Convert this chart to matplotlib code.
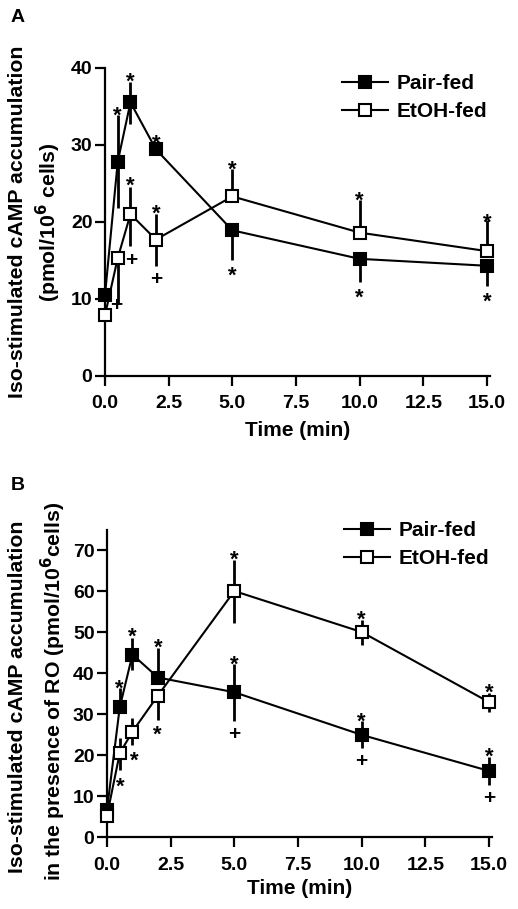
import matplotlib
matplotlib.use('Agg')
import matplotlib.pyplot as plt
from matplotlib.ticker import FormatStrFormatter

plt.rcParams['font.family'] = ['Liberation Sans', 'DejaVu Sans']
plt.rcParams['font.weight'] = 'bold'

time = [0, 0.5, 1, 2, 5, 10, 15]
xticks = [0, 2.5, 5, 7.5, 10, 12.5, 15]

# panel A
a_pair = [10.5, 27.8, 35.5, 29.4, 18.9, 15.2, 14.3]
a_pair_up = [0, 6.0, 2.6, 1.0, 0, 0, 0]
a_pair_dn = [0, 6.0, 2.8, 0, 3.9, 3.0, 2.6]
a_etoh = [7.9, 15.3, 21.0, 17.7, 23.3, 18.6, 16.2]
a_etoh_up = [0, 0, 3.5, 3.3, 3.6, 4.2, 4.0]
a_etoh_dn = [0, 5.9, 4.1, 3.4, 0, 0, 0]
a_marks = [(0.5, 34.6, '*'), (1, 39.0, '*'), (2, 31.0, '*'), (5, 13.9, '*'),
           (10, 11.0, '*'), (15, 10.5, '*'),
           (0.46, 9.4, '+'), (1.05, 15.3, '+'), (1, 25.6, '*'), (2, 21.9, '*'),
           (2, 12.8, '+'), (5, 27.6, '*'), (10, 23.6, '*'), (15, 20.8, '*')]

# panel B
b_pair = [6.7, 31.7, 44.6, 39.0, 35.4, 25.0, 16.2]
b_pair_up = [0, 4.7, 4.1, 7.2, 6.9, 3.3, 3.5]
b_pair_dn = [0, 0, 3.7, 0, 7.1, 3.2, 3.4]
b_etoh = [5.3, 20.5, 25.8, 34.6, 60.1, 50.1, 33.0]
b_etoh_up = [0, 3.7, 3.3, 0, 7.7, 3.0, 2.2]
b_etoh_dn = [0, 4.0, 3.2, 5.9, 7.8, 3.1, 2.3]
b_marks = [(0.5, 38.0, '*'), (1, 50.7, '*'), (2, 47.8, '*'), (5, 43.8, '*'),
           (10, 29.9, '*'), (15, 21.4, '*'),
           (5, 25.6, '+'), (10, 18.9, '+'), (15, 9.9, '+'),
           (0.54, 14.0, '*'), (1.06, 20.4, '*'), (1.99, 26.7, '*'),
           (5, 69.4, '*'), (10, 54.8, '*'), (15, 36.8, '*')]


def panel(ax, pair, pup, pdn, etoh, eup, edn, marks, ymax, yticks, leg_anchor):
    ax.errorbar(time, pair, yerr=[pdn, pup], fmt='none', ecolor='black',
                elinewidth=2.0, capsize=0, clip_on=False)
    ax.errorbar(time, etoh, yerr=[edn, eup], fmt='none', ecolor='black',
                elinewidth=2.0, capsize=0, clip_on=False)
    ax.plot(time, pair, '-s', color='black', lw=1.5, ms=9,
            mfc='black', mec='black', mew=1.5, label='Pair-fed', clip_on=False, zorder=3)
    ax.plot(time, etoh, '-s', color='black', lw=1.5, ms=9,
            mfc='white', mec='black', mew=1.5, label='EtOH-fed', clip_on=False, zorder=3)
    for x, y, s in marks:
        fs = 16 if s == '*' else 15
        off = -0.57 * fs if s == '*' else -0.36 * fs
        ax.annotate(s, (x, y), xytext=(0, off), textcoords='offset points',
                    ha='center', va='baseline', fontsize=fs, fontweight='bold')
    ax.set_xlim(0, 15.1)
    ax.set_ylim(0, ymax)
    ax.set_xticks(xticks)
    ax.set_yticks(yticks)
    ax.xaxis.set_major_formatter(FormatStrFormatter('%.1f'))
    for s in ['top', 'right']:
        ax.spines[s].set_visible(False)
    for s in ['left', 'bottom']:
        ax.spines[s].set_linewidth(1.6)
    ax.tick_params(length=7, width=1.6, labelsize=14)
    ax.tick_params(axis='x', pad=7)
    ax.tick_params(axis='y', pad=2)
    for lab in ax.get_xticklabels() + ax.get_yticklabels():
        lab.set_fontweight('bold')
    ax.legend(loc='upper left', bbox_to_anchor=leg_anchor,
              bbox_transform=ax.figure.transFigure, frameon=False,
              fontsize=15, handlelength=2.2, handletextpad=0.4,
              labelspacing=0.45, borderpad=0, borderaxespad=0)


fig = plt.figure(figsize=(5.18, 9.09), dpi=100)
W, H = 518.0, 909.0

axA = fig.add_axes([105 / W, 1 - 376 / H, 384.6 / W, 308.3 / H])
panel(axA, a_pair, a_pair_up, a_pair_dn, a_etoh, a_etoh_up, a_etoh_dn,
      a_marks, 40, [0, 10, 20, 30, 40], (342 / W, 1 - 74 / H))
axA.set_xlabel('Time (min)', fontsize=15, fontweight='bold', labelpad=6)
fig.text(18 / W, 1 - 222 / H, 'Iso-stimulated cAMP accumulation', rotation=90,
         ha='center', va='center', fontsize=15.3, fontweight='bold')
fig.text(48 / W, 1 - 222 / H, '(pmol/10$^\\mathbf{6}$ cells)', rotation=90,
         ha='center', va='center', fontsize=15.3, fontweight='bold')
fig.text(18 / W, 1 - 17 / H, 'A', ha='center', va='center', fontsize=14, fontweight='bold')

axB = fig.add_axes([107 / W, 1 - 837.3 / H, 384.5 / W, 307.3 / H])
panel(axB, b_pair, b_pair_up, b_pair_dn, b_etoh, b_etoh_up, b_etoh_dn,
      b_marks, 75, [0, 10, 20, 30, 40, 50, 60, 70], (344 / W, 1 - 521 / H))
axB.set_xlabel('Time (min)', fontsize=15, fontweight='bold', labelpad=4)
fig.text(18 / W, 1 - 697 / H, 'Iso-stimulated cAMP accumulation', rotation=90,
         ha='center', va='center', fontsize=15.3, fontweight='bold')
fig.text(53 / W, 1 - 691 / H, 'in the presence of RO (pmol/10$^\\mathbf{6}$cells)', rotation=90,
         ha='center', va='center', fontsize=15.3, fontweight='bold')
fig.text(18 / W, 1 - 485 / H, 'B', ha='center', va='center', fontsize=14, fontweight='bold')

fig.savefig('out.png', dpi=100)
plt.close(fig)
